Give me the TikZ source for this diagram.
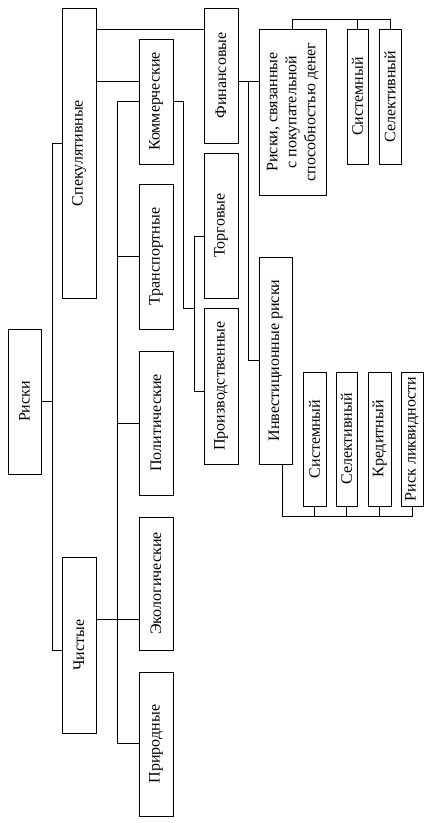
\documentclass[tikz,border=0pt]{standalone}
\usepackage{fontspec}
\setmainfont{Liberation Serif}
\begin{document}
\begin{tikzpicture}[x=1pt, y=-1pt, line width=0.9pt,
  box/.style={draw, inner sep=0pt, minimum width=34, font=\fontsize{16}{19}\selectfont}]
  \useasboundingbox (0,0) rectangle (435,823);

  \node (riski) [box, minimum width=33, minimum height=145] at (24.5, 401.5) {\rotatebox{90}{Риски}};
  \node (spek) [box, minimum height=290] at (79, 153) {\rotatebox{90}{Спекулятивные}};
  \node (chist) [box, minimum height=176] at (79, 645) {\rotatebox{90}{Чистые}};

  \node (komm) [box, minimum height=125] at (156, 101.5) {\rotatebox{90}{Коммерческие}};
  \node (trans) [box, minimum height=145] at (156, 256.5) {\rotatebox{90}{Транспортные}};
  \node (polit) [box, minimum height=144] at (156, 423) {\rotatebox{90}{Политические}};
  \node (ekol) [box, minimum height=133] at (156, 583.5) {\rotatebox{90}{Экологические}};
  \node (prir) [box, minimum height=144] at (156, 744) {\rotatebox{90}{Природные}};

  \node (fin) [box, minimum height=135] at (221, 75.5) {\rotatebox{90}{Финансовые}};
  \node (torg) [box, minimum height=145] at (221, 225.5) {\rotatebox{90}{Торговые}};
  \node (proizv) [box, minimum height=156] at (221, 386) {\rotatebox{90}{Производственные}};

  \node (pokup) [box, minimum width=67, minimum height=166] at (292.5, 112) {\rotatebox{90}{\begin{tabular}{@{}c@{}}Риски, связанные\\ с покупательной\\ способностью денег\end{tabular}}};
  \node (sist-1) [box, minimum width=21, minimum height=135] at (357.5, 96.5) {\rotatebox{90}{Системный}};
  \node (sel-1) [box, minimum width=22, minimum height=135] at (390, 96.5) {\rotatebox{90}{Селективный}};

  \node (invest) [box, minimum width=33, minimum height=207] at (275.5, 360.5) {\rotatebox{90}{Инвестиционные риски}};
  \node (sist-2) [box, minimum width=23, minimum height=134] at (314.5, 439) {\rotatebox{90}{Системный}};
  \node (sel-2) [box, minimum width=21, minimum height=134] at (346.5, 439) {\rotatebox{90}{Селективный}};
  \node (kred) [box, minimum width=23, minimum height=134] at (379.5, 439) {\rotatebox{90}{Кредитный}};
  \node (likv) [box, minimum width=22, minimum height=134] at (412, 439) {\rotatebox{90}{Риск ликвидности}};

  \coordinate (trunk-top) at (52, 143);
  \coordinate (trunk-bot) at (52, 650);
  \coordinate (s-f) at (0, 29);
  \coordinate (s-k) at (0, 81);
  \coordinate (c-e) at (0, 619);
  \coordinate (br-top) at (117, 101);
  \coordinate (br-bot) at (117, 743);
  \coordinate (k-1) at (183, 308);
  \coordinate (k-2) at (194, 236);
  \coordinate (k-3) at (194, 391);
  \coordinate (f-1) at (248, 81);
  \coordinate (top-bar) at (0, 19);
  \coordinate (bot-bar) at (282, 516);

  \draw (riski.east) to (riski.east -| trunk-top);
  \draw (spek.west |- trunk-top) -- (trunk-top) -- (trunk-bot) -- (chist.west |- trunk-bot);
  \draw (spek.east |- s-f) to (fin.west |- s-f);
  \draw (spek.east |- s-k) to (komm.west |- s-k);
  \draw (chist.east |- c-e) to (ekol.west |- c-e);
  \draw (komm.west |- br-top) -- (br-top) -- (br-bot) -- (prir.west |- br-bot);
  \draw (br-top |- trans) to (trans.west);
  \draw (br-top |- polit) to (polit.west);
  \draw (komm.east) -| (k-1) -- (k-1 -| k-2);
  \draw (torg.west |- k-2) -- (k-2) -- (k-3) -- (proizv.west |- k-3);
  \draw (fin.east |- f-1) to (pokup.west |- f-1);
  \draw (f-1) |- (invest.west);
  \draw (pokup.north) -- (pokup.north |- top-bar) -- (sel-1.north |- top-bar) -- (sel-1.north);
  \draw (sist-1.north) to (sist-1.north |- top-bar);
  \draw (bot-bar |- invest.south) -- (bot-bar) -- (likv.south |- bot-bar) -- (likv.south);
  \draw (sist-2.south) to (sist-2.south |- bot-bar);
  \draw (sel-2.south) to (sel-2.south |- bot-bar);
  \draw (kred.south) to (kred.south |- bot-bar);
\end{tikzpicture}
\end{document}
